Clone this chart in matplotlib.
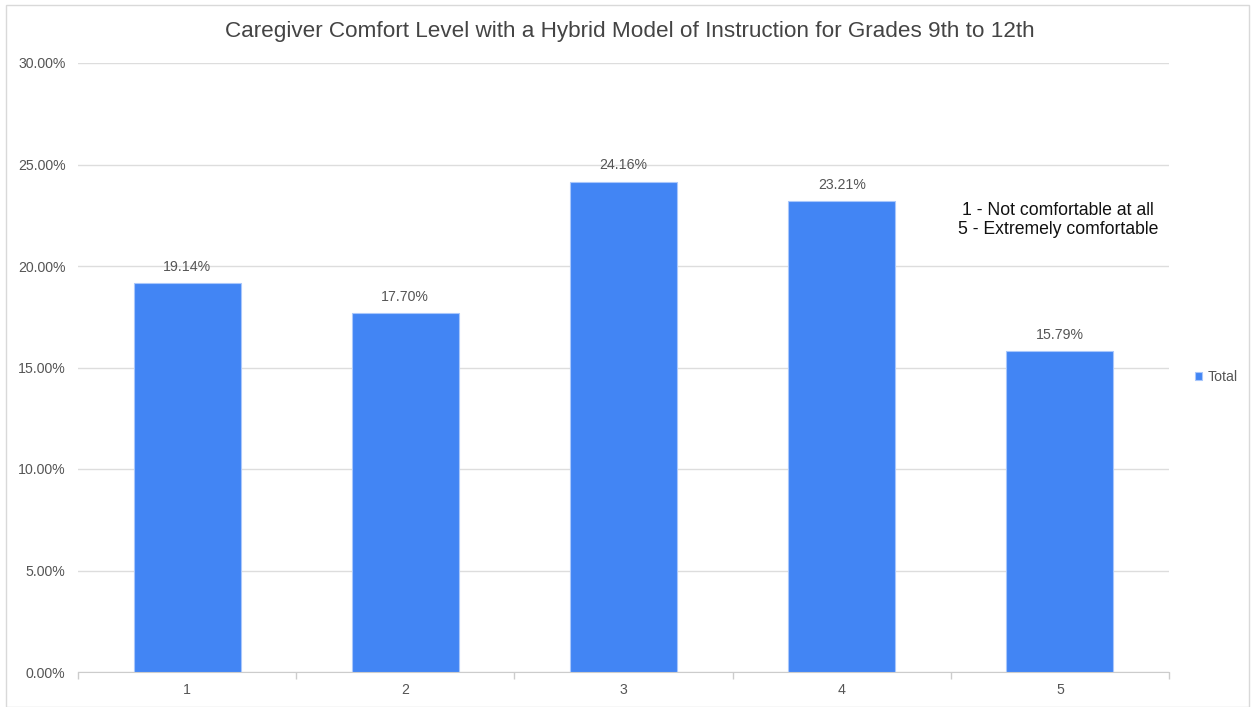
import numpy as np
import matplotlib.pyplot as plt
from matplotlib.patches import Rectangle

plt.rcParams['font.family'] = ['Liberation Sans', 'DejaVu Sans']

# datos
niveles = ['1', '2', '3', '4', '5']
porcentajes = [19.14, 17.70, 24.16, 23.21, 15.79]
yticks = [0, 5, 10, 15, 20, 25, 30]

azul = '#4285F4'
gris_texto = '#555555'

fig = plt.figure(figsize=(12.52, 7.07), dpi=100)
ax = fig.add_axes([78 / 1252, 1 - 672 / 707, (1169 - 78) / 1252, (672 - 63) / 707])

# borde de la figura
fig.patches.append(Rectangle((6 / 1252, 0), 1243 / 1252, 1 - 5 / 707, transform=fig.transFigure,
                             fill=False, edgecolor='#d9d9d9', linewidth=1))

x = np.arange(len(niveles))
barras = ax.bar(x, porcentajes, width=0.49, color=azul, edgecolor='#a9c7fb', linewidth=0.8,
                label='Total', zorder=3)

for xi, v in zip(x, porcentajes):
    ax.text(xi, v + 0.45, f'{v:.2f}%', ha='center', va='bottom', fontsize=10.2, color=gris_texto)

ax.set_xlim(-0.5, len(niveles) - 0.5)
ax.set_ylim(0, 30)
ax.set_yticks(yticks)
ax.set_yticklabels([f'{t:.2f}%' for t in yticks])
ax.set_xticks(x)
ax.set_xticklabels(niveles)
ax.tick_params(axis='y', length=0, pad=9, labelsize=10.2, labelcolor=gris_texto)
ax.tick_params(axis='x', length=0, pad=8, labelsize=10.2, labelcolor=gris_texto)

# marcas entre categorias
ax.set_xticks(np.arange(-0.5, len(niveles), 1), minor=True)
ax.tick_params(axis='x', which='minor', length=5, color='#cccccc', width=1)

ax.grid(axis='y', color='#dddddd', linewidth=1, zorder=0)
for s in ['top', 'right', 'left']:
    ax.spines[s].set_visible(False)
ax.spines['bottom'].set_color('#cccccc')

fig.text(630 / 1252, 1 - 31 / 707,
         'Caregiver Comfort Level with a Hybrid Model of Instruction for Grades 9th to 12th',
         ha='center', va='center', fontsize=16.2, color='#444444')

fig.text(1058 / 1252, 1 - 220 / 707, '1 - Not comfortable at all\n5 - Extremely comfortable',
         ha='center', va='center', fontsize=12.7, color='#111111', linespacing=1.15)

ax.legend(loc='center left', bbox_to_anchor=(1182 / 1252, 1 - 377 / 707),
          bbox_transform=fig.transFigure, frameon=False, fontsize=10.2,
          handlelength=0.5, handleheight=0.5, handletextpad=0.4, labelcolor=gris_texto)

fig.savefig('out.png', dpi=100)
